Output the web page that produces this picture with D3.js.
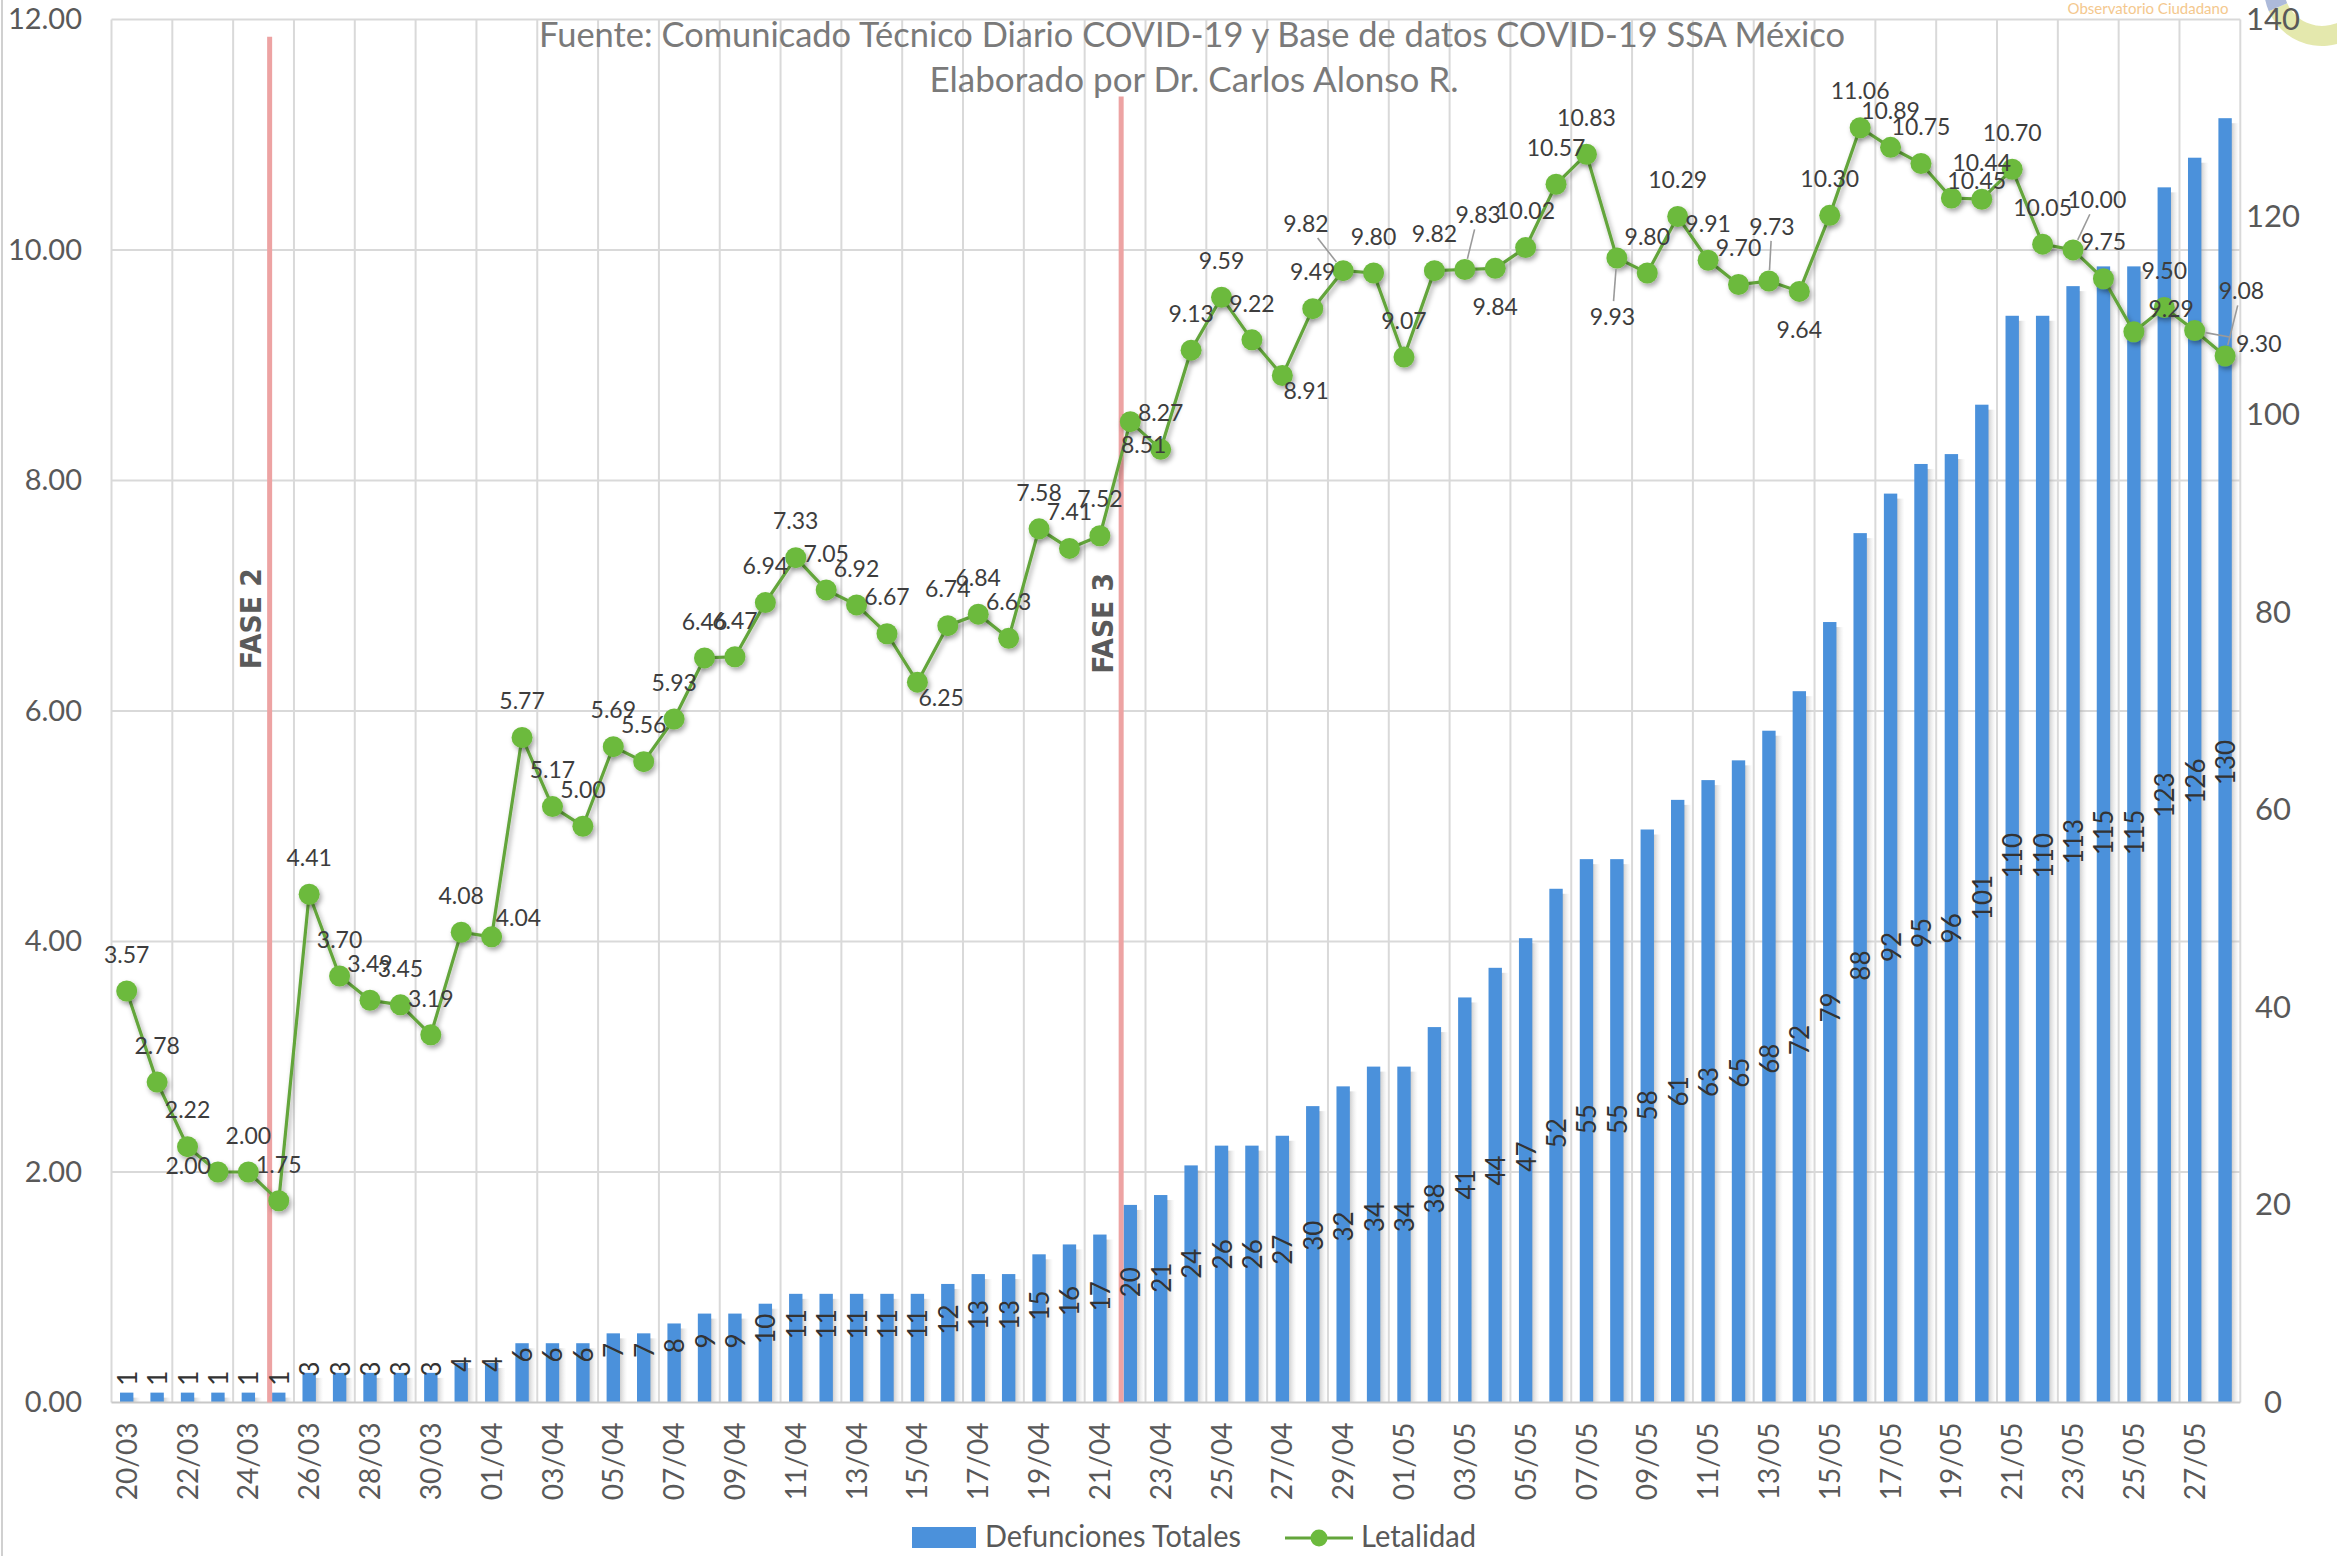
<!DOCTYPE html>
<html><head><meta charset="utf-8">
<script src="https://cdn.jsdelivr.net/npm/d3@7"></script>
<style>body{margin:0;background:#fff;overflow:hidden}svg{display:block}</style>
</head><body><svg id="chart" width="2337" height="1556"></svg>
<script>
// ---------------- DATA ----------------
const dates = ["20/03","21/03","22/03","23/03","24/03","25/03","26/03","27/03","28/03","29/03","30/03","31/03",
"01/04","02/04","03/04","04/04","05/04","06/04","07/04","08/04","09/04","10/04","11/04","12/04","13/04","14/04","15/04",
"16/04","17/04","18/04","19/04","20/04","21/04","22/04","23/04","24/04","25/04","26/04","27/04","28/04","29/04","30/04",
"01/05","02/05","03/05","04/05","05/05","06/05","07/05","08/05","09/05","10/05","11/05","12/05","13/05","14/05","15/05",
"16/05","17/05","18/05","19/05","20/05","21/05","22/05","23/05","24/05","25/05","26/05","27/05","28/05"];
const defunciones = [1,1,1,1,1,1,3,3,3,3,3,4,
4,6,6,6,7,7,8,9,9,10,11,11,11,11,11,12,13,13,15,16,17,20,21,24,26,26,27,30,32,34,
34,38,41,44,47,52,55,55,58,61,63,65,68,72,79,88,92,95,96,101,110,110,113,115,115,123,126,130];
const letalidad = [3.57,2.78,2.22,2.00,2.00,1.75,4.41,3.70,3.49,3.45,3.19,4.08,
4.04,5.77,5.17,5.00,5.69,5.56,5.93,6.46,6.47,6.94,7.33,7.05,6.92,6.67,6.25,6.74,6.84,6.63,7.58,7.41,7.52,8.51,8.27,9.13,9.59,9.22,8.91,9.49,9.82,9.80,
9.07,9.82,9.83,9.84,10.02,10.57,10.83,9.93,9.80,10.29,9.91,9.70,9.73,9.64,10.30,11.06,10.89,10.75,10.45,10.44,10.70,10.05,10.00,9.75,9.29,9.50,9.30,9.08];
// label placement style for each Letalidad label
const labelPlace = ["t","t","t","l","t","t","t","t","t","t","t","t",
"r","t","t","t","t","t","t","t","t","t","t","t","t","t","br","t","t","t","t","t","t","brs","t","t","t","t","br","t","tlLead","t",
"t","t","trLead","b","t","t","t","bLead","t","t","t","t","tLead","b","t","t","t","t","tr","t","t","t","trLead2","t","tr2","t","rLead","trLead3"];
const leftTicks = [0,2,4,6,8,10,12];
const rightTicks = [0,20,40,60,80,100,120,140];
const phases = [{label:"FASE 2", date:"25/03", top:11.85, mid:6.8},
                {label:"FASE 3", date:"22/04", top:11.33, mid:6.76}];
const titleLines = ["Fuente: Comunicado Técnico Diario COVID-19 y Base de datos COVID-19 SSA México",
                    "Elaborado por Dr. Carlos Alonso R."];
const seriesNames = ["Defunciones Totales","Letalidad"];

// ---------------- LAYOUT ----------------
const S = 1.4904;
const M = {left:111.5, right:2240.3, top:19.4, bottom:1402.5};
const FONT = "Lato, 'Open Sans', sans-serif";
const BLUE = "#4b91db", LINEC = "#63a53b", MARK = "#6cba3d";
const svg = d3.select("#chart");
svg.append("rect").attr("width",2337).attr("height",1556).attr("fill","#fff");

const defs = svg.append("defs");
const sg = defs.append("linearGradient").attr("id","shadowGrad").attr("x1","0").attr("x2","1").attr("y1","0").attr("y2","0");
sg.append("stop").attr("offset","0").attr("stop-color","#6e6e6e").attr("stop-opacity",0.85);
sg.append("stop").attr("offset","1").attr("stop-color","#cfcfcf").attr("stop-opacity",0);
const f = defs.append("filter").attr("id","ds").attr("x","-50%").attr("y","-50%").attr("width","200%").attr("height","200%");
f.append("feDropShadow").attr("dx",2).attr("dy",3).attr("stdDeviation",2.5).attr("flood-color","#000").attr("flood-opacity",0.35);

const x = d3.scaleBand().domain(dates).range([M.left, M.right]).padding(0);
const bw = x.bandwidth();
const cx = d => x(d) + bw/2;
const yL = d3.scaleLinear().domain([0,12]).range([M.bottom, M.top]);
const yR = d3.scaleLinear().domain([0,140]).range([M.bottom, M.top]);
const yLab = d3.scaleLinear().domain([0,297]).range([M.bottom, M.top]);

// left border of whole picture
svg.append("line").attr("x1",2).attr("x2",2).attr("y1",0).attr("y2",1556).attr("stroke","#d0d0d0").attr("stroke-width",2);

// ---------------- GRID ----------------
const grid = svg.append("g");
grid.selectAll("line.h").data(leftTicks.filter(d=>d>0)).join("line").attr("class","h")
  .attr("x1",M.left).attr("x2",M.right).attr("y1",d=>yL(d)).attr("y2",d=>yL(d))
  .attr("stroke","#d9d9d9").attr("stroke-width",2);
grid.selectAll("line.v").data(dates.filter((d,i)=>i%2===0)).join("line").attr("class","v")
  .attr("x1",d=>x(d)).attr("x2",d=>x(d)).attr("y1",M.top).attr("y2",M.bottom)
  .attr("stroke","#d9d9d9").attr("stroke-width",2);
grid.append("line").attr("x1",M.right).attr("x2",M.right).attr("y1",M.top).attr("y2",M.bottom)
  .attr("stroke","#d9d9d9").attr("stroke-width",2);

// ---------------- TITLE ----------------
svg.append("text").text(titleLines[0]).attr("x",1192).attr("y",47).attr("text-anchor","middle")
  .attr("font-family",FONT).attr("font-size",34).attr("fill","#7a7a7a")
  .attr("textLength",1306).attr("lengthAdjust","spacingAndGlyphs");
svg.append("text").text(titleLines[1]).attr("x",1194).attr("y",92).attr("text-anchor","middle")
  .attr("font-family",FONT).attr("font-size",34).attr("fill","#7a7a7a")
  .attr("textLength",529).attr("lengthAdjust","spacingAndGlyphs");

// ---------------- BARS ----------------
const barW = bw*0.44;
const bars = svg.append("g");
bars.selectAll("rect.sh").data(defunciones).join("rect").attr("class","sh")
  .attr("x",(d,i)=>cx(dates[i]) - barW/2 + barW*0.55).attr("width",barW*1.0)
  .attr("y",d=>yR(d)+5).attr("height",d=>Math.max(0,M.bottom-yR(d)-5))
  .attr("fill","url(#shadowGrad)");
bars.selectAll("rect.b").data(defunciones).join("rect").attr("class","b")
  .attr("x",(d,i)=>cx(dates[i]) - barW/2).attr("width",barW)
  .attr("y",d=>yR(d)).attr("height",d=>M.bottom-yR(d))
  .attr("fill",BLUE);

// axis base line
svg.append("line").attr("x1",M.left).attr("x2",M.right).attr("y1",M.bottom).attr("y2",M.bottom)
  .attr("stroke","#c8c8c8").attr("stroke-width",2);

// ---------------- PHASE LINES ----------------
phases.forEach(p=>{
  const px = x(p.date) + bw*0.2;
  svg.append("line").attr("x1",px).attr("x2",px).attr("y1",yL(p.top)).attr("y2",M.bottom)
    .attr("stroke","#eda3a3").attr("stroke-width",5);
  svg.append("text").text(p.label)
    .attr("transform",`translate(${px-18},${yL(p.mid)}) rotate(-90)`)
    .attr("text-anchor","middle").attr("dominant-baseline","central")
    .attr("font-family","'DejaVu Sans', sans-serif").attr("font-weight","bold").attr("font-size",28)
    .attr("fill","#5a5a5a").attr("textLength",101).attr("lengthAdjust","spacingAndGlyphs");
});

// ---------------- BAR LABELS ----------------
svg.append("g").selectAll("text").data(defunciones).join("text")
  .text(d=>d)
  .attr("transform",(d,i)=>`translate(${cx(dates[i])},${yLab(d)-12}) rotate(-90)`)
  .attr("text-anchor","start").attr("dominant-baseline","central")
  .attr("font-family",FONT).attr("font-size",26).attr("fill","#333");

// ---------------- LINE ----------------
const lineGen = d3.line().x((d,i)=>cx(dates[i])).y(d=>yL(d));
svg.append("path").datum(letalidad).attr("d",lineGen).attr("fill","none")
  .attr("stroke",LINEC).attr("stroke-width",3.2).attr("filter","url(#ds)");
svg.append("g").attr("filter","url(#ds)").selectAll("circle").data(letalidad).join("circle")
  .attr("cx",(d,i)=>cx(dates[i])).attr("cy",d=>yL(d)).attr("r",10.5).attr("fill",MARK);

// ---------------- LINE LABELS ----------------
const offs = {t:[0,-25], b:[0,25], l:[-20,-5], r:[18,-13], br:[16,10], brs:[9,15], tr:[17,-12], tr2:[25,-16],
  tlLead:[-25,-32], trLead:[9,-37], tLead:[2,-37], bLead:[-3,39], trLead2:[16,-34], rLead:[43,8], trLead3:[11,-44]};
const lab = svg.append("g");
letalidad.forEach((v,i)=>{
  const px = cx(dates[i]), py = yL(v);
  const o = offs[labelPlace[i]];
  const dx = o[0]*S, dy = o[1]*S;
  if (labelPlace[i].indexOf("Lead")>=0) {
    const len = Math.hypot(dx,dy), ux = dx/len, uy = dy/len;
    const shrink = Math.abs(uy) > Math.abs(ux) ? 15/Math.abs(uy) : 28/Math.abs(ux);
    const e = Math.min(len-4, shrink);
    lab.append("line").attr("x1",px+ux*11).attr("y1",py+uy*11)
      .attr("x2",px+dx-ux*e).attr("y2",py+dy-uy*e)
      .attr("stroke","#9a9a9a").attr("stroke-width",1.6);
  }
  lab.append("text").text(d3.format(".2f")(v))
    .attr("x",px+dx).attr("y",py+dy).attr("text-anchor","middle").attr("dominant-baseline","central")
    .attr("font-family",FONT).attr("font-size",23).attr("fill","#3d3d3d");
});

// ---------------- AXES ----------------
const axL = svg.append("g").attr("transform",`translate(82,0)`)
  .call(d3.axisLeft(yL).tickValues(leftTicks).tickFormat(d3.format(".2f")).tickSize(0).tickPadding(0));
const axR = svg.append("g").attr("transform",`translate(2273,0)`)
  .call(d3.axisRight(yR).tickValues(rightTicks).tickSize(0).tickPadding(0));
axR.selectAll("text").attr("text-anchor","middle");
const axX = svg.append("g").attr("transform",`translate(0,${M.bottom})`)
  .call(d3.axisBottom(x).tickValues(dates.filter((d,i)=>i%2===0)).tickSize(0));
axX.selectAll("text").attr("x",-20).attr("y",0).attr("dy","0.36em")
  .attr("transform","rotate(-90)").attr("text-anchor","end");
[axL,axR,axX].forEach(a=>{
  a.select(".domain").remove();
  a.selectAll("text").attr("font-family",FONT).attr("fill","#595959");
});
axL.selectAll("text").attr("font-size",29);
axR.selectAll("text").attr("font-size",31);
axX.selectAll("text").attr("font-size",28);

// ---------------- LEGEND ----------------
const lg = svg.append("g");
lg.append("rect").attr("x",912).attr("y",1527).attr("width",64).attr("height",21).attr("fill",BLUE);
lg.append("text").text(seriesNames[0]).attr("x",985).attr("y",1547)
  .attr("font-family",FONT).attr("font-size",30).attr("fill","#595959")
  .attr("textLength",256).attr("lengthAdjust","spacingAndGlyphs");
lg.append("line").attr("x1",1285).attr("x2",1353).attr("y1",1538).attr("y2",1538).attr("stroke",LINEC).attr("stroke-width",3);
lg.append("circle").attr("cx",1319).attr("cy",1538).attr("r",8.5).attr("fill",MARK);
lg.append("text").text(seriesNames[1]).attr("x",1361).attr("y",1547)
  .attr("font-family",FONT).attr("font-size",30).attr("fill","#595959")
  .attr("textLength",115).attr("lengthAdjust","spacingAndGlyphs");

// ---------------- LOGO (top right) ----------------
const logo = svg.append("g").attr("transform","translate(2322,-12)");
const arc = d3.arc().innerRadius(38).outerRadius(58);
[[1.55,2.3,"#eaa3b8"],[2.3,4.3,"#e1e5a4"],[4.3,4.8,"#a4b3d6"]].forEach(s=>{
  logo.append("path").attr("d",arc({startAngle:s[0],endAngle:s[1]})).attr("fill",s[2]).attr("opacity",0.9);
});
axR.raise();
svg.append("text").text("Observatorio Ciudadano").attr("x",2148).attr("y",14).attr("text-anchor","middle")
  .attr("font-family",FONT).attr("font-size",15).attr("fill","#f4c88e");
</script></body></html>
